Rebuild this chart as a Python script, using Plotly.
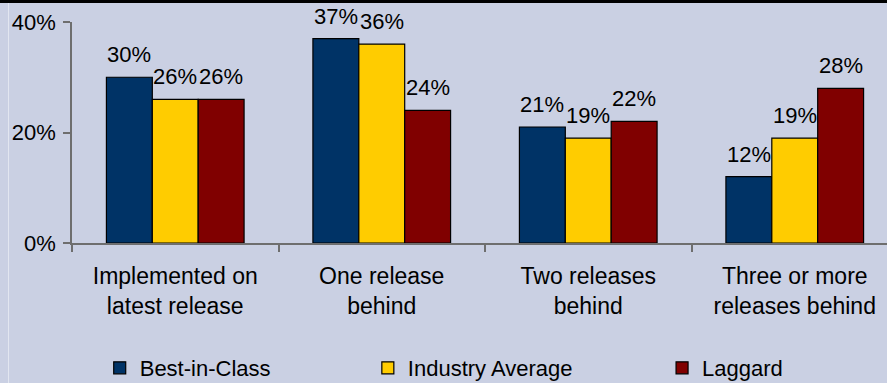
import plotly.graph_objects as go

# Release currency by maturity class (share of respondents, %)
categories = [
    "Implemented on<br>latest release",
    "One release<br>behind",
    "Two releases<br>behind",
    "Three or more<br>releases behind",
]
series_names = ["Best-in-Class", "Industry Average", "Laggard"]
best_in_class = [30, 37, 21, 12]
industry_average = [26, 36, 19, 19]
laggard = [26, 24, 22, 28]
y_ticks = [0, 20, 40]

series_values = [best_in_class, industry_average, laggard]
series_colors = ["#003366", "#FFCC00", "#800000"]

W, H = 887, 383
M_L, M_R, M_T, M_B = 72, 0, 22, 140
plot_w = W - M_L - M_R
plot_h = H - M_T - M_B
cat_px = 206.5
bargap = 1 / 3
bar_w = (1 - bargap) / len(series_names)

FONT = "Liberation Sans, Arial, sans-serif"
FS = 23
BG = "#CAD0E3"
AXIS = "#6E6E6E"

fig = go.Figure()
legend_x = [0.034, 0.363, 0.724]
for k, (name, vals, col) in enumerate(zip(series_names, series_values, series_colors)):
    lg = "legend" if k == 0 else f"legend{k + 1}"
    fig.add_trace(go.Bar(
        x=categories, y=vals, name=name,
        marker=dict(color=col, line=dict(color="#000000", width=1.2)),
        legend=lg,
    ))
    # value labels above each bar
    for i, v in enumerate(vals):
        fig.add_annotation(
            x=i + (k - 1) * bar_w, y=v, xref="x", yref="y",
            text=f"{v}%", showarrow=False, yanchor="bottom", xanchor="center",
            yshift=8, font=dict(family=FONT, size=22, color="#000000"),
        )

legend_y = -(368 - (M_T + plot_h)) / plot_h
legend_common = dict(
    orientation="h", yanchor="middle", xanchor="left", y=legend_y,
    bgcolor="rgba(0,0,0,0)", borderwidth=0,
    font=dict(family=FONT, size=22, color="#000000"),
)
fig.update_layout(
    legend=dict(x=legend_x[0], **legend_common),
    legend2=dict(x=legend_x[1], **legend_common),
    legend3=dict(x=legend_x[2], **legend_common),
)

fig.update_layout(
    width=W, height=H,
    margin=dict(l=M_L, r=M_R, t=M_T, b=M_B, pad=0, autoexpand=False),
    paper_bgcolor=BG, plot_bgcolor=BG,
    barmode="group", bargap=bargap, bargroupgap=0,
    font=dict(family=FONT, size=FS, color="#000000"),
    showlegend=True,
)

fig.update_xaxes(
    type="category",
    range=[-0.5, -0.5 + plot_w / cat_px],
    showline=True, linecolor=AXIS, linewidth=1.5,
    ticks="outside", tickson="boundaries", ticklen=7, tickcolor=AXIS, tickwidth=1.5,
    showgrid=False, zeroline=False,
    tickfont=dict(family=FONT, size=FS, color="#000000"),
    ticklabelstandoff=12,
)
fig.update_yaxes(
    range=[0, 40], tickvals=y_ticks, ticktext=[f"{t}%" for t in y_ticks],
    showline=True, linecolor=AXIS, linewidth=1.5,
    ticks="outside", ticklen=7, tickcolor=AXIS, tickwidth=1.5,
    showgrid=False, zeroline=False,
    tickfont=dict(family=FONT, size=22, color="#000000"),
    ticklabelstandoff=3,
)

# dark rule along the top edge and faint light rule near the left edge
top_paper = 1 + M_T / plot_h
fig.add_shape(type="rect", xref="paper", yref="paper",
              x0=-M_L / plot_w, x1=1.01, y0=top_paper - 3 / plot_h, y1=top_paper + 0.01,
              fillcolor="#000000", line=dict(width=0), layer="above")
fig.add_shape(type="line", xref="paper", yref="paper",
              x0=-(M_L - 8.5) / plot_w, x1=-(M_L - 8.5) / plot_w,
              y0=-M_B / plot_h, y1=top_paper - 3 / plot_h,
              line=dict(color="#E2E6F0", width=1), layer="above")

fig.write_html("out.html")
